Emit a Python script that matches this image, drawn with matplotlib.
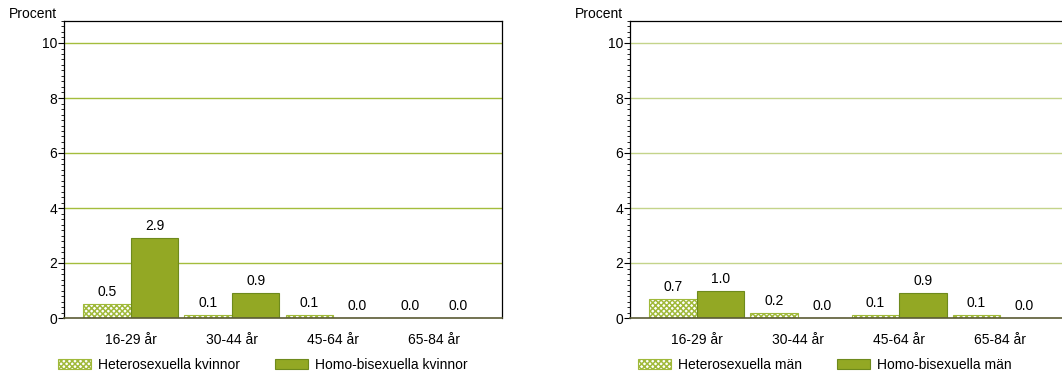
import numpy as np
from matplotlib import pyplot as plt
from matplotlib.patches import Patch
from matplotlib.ticker import MultipleLocator

plt.rcParams['font.family'] = ['Liberation Sans', 'DejaVu Sans']
plt.rcParams['hatch.linewidth'] = 1.1

# data
ages = ["16-29 år", "30-44 år", "45-64 år", "65-84 år"]
het_kvinnor = [0.5, 0.1, 0.1, 0.0]
homo_kvinnor = [2.9, 0.9, 0.0, 0.0]
het_man = [0.7, 0.2, 0.1, 0.1]
homo_man = [1.0, 0.0, 0.9, 0.0]

het_edge = "#a0b93a"
homo_face = "#93a824"
homo_edge = "#6e8a1c"
HATCH = "xxxxxx"
FS = 10

W, H = 1062, 379
fig = plt.figure(figsize=(W / 100, H / 100), dpi=100)


def panel(left_px, leg_px, het, homo, labels, grid_col):
    ax = fig.add_axes([left_px / W, (H - 318) / H, 438 / W, (318 - 21) / H])
    x = np.arange(len(ages))
    w = 0.47
    ax.bar(x - w / 2, het, w, facecolor="white", edgecolor=het_edge,
           hatch=HATCH, linewidth=0.8, zorder=2)
    ax.bar(x + w / 2, homo, w, facecolor=homo_face, edgecolor=homo_edge,
           linewidth=0.8, zorder=2)
    for xs, vals in [(x - w / 2, het), (x + w / 2, homo)]:
        for xi, v in zip(xs, vals):
            ax.annotate(f"{v:.1f}", (xi, v), xytext=(0, 8.6), textcoords="offset points",
                        ha="center", va="center", fontsize=FS)
    ax.set_xlim(-0.66, 3.67)
    ax.set_ylim(0, 10.8)
    ax.set_xticks(x)
    ax.set_xticklabels(ages, fontsize=FS)
    ax.tick_params(axis="x", length=0, pad=11)
    ax.set_yticks([0, 2, 4, 6, 8, 10])
    ax.yaxis.set_minor_locator(MultipleLocator(0.2))
    ax.tick_params(axis="y", which="major", length=4, labelsize=FS, pad=1)
    ax.tick_params(axis="y", which="minor", length=2)
    for yv in [2, 4, 6, 8, 10]:
        ax.axhline(yv, color=grid_col, linewidth=1.0, zorder=1)
    ax.spines["bottom"].set_color("#5b5b35")
    ax.spines["bottom"].set_linewidth(1.2)
    ax.spines["bottom"].set_zorder(3)
    for s in ["top", "left", "right"]:
        ax.spines[s].set_linewidth(0.9)
    ax.text(-0.125, 1.0 + 7 / 297, "Procent", transform=ax.transAxes, fontsize=FS,
            ha="left", va="center")
    handles = [Patch(facecolor="white", edgecolor=het_edge, hatch=HATCH, linewidth=0.8),
               Patch(facecolor=homo_face, edgecolor=homo_edge, linewidth=0.8)]
    ax.legend(handles, labels, ncol=2, frameon=False, fontsize=FS,
              loc="center left", bbox_to_anchor=(leg_px / W, (H - 365) / H),
              bbox_transform=fig.transFigure, borderpad=0, borderaxespad=0,
              handlelength=2.4, handleheight=0.75, handletextpad=0.5,
              columnspacing=2.5)
    return ax


panel(64, 58, het_kvinnor, homo_kvinnor,
      ["Heterosexuella kvinnor", "Homo-bisexuella kvinnor"], "#a4bd3c")
panel(630, 638, het_man, homo_man,
      ["Heterosexuella män", "Homo-bisexuella män"], "#c4d48a")

fig.savefig("out.png", dpi=100)
